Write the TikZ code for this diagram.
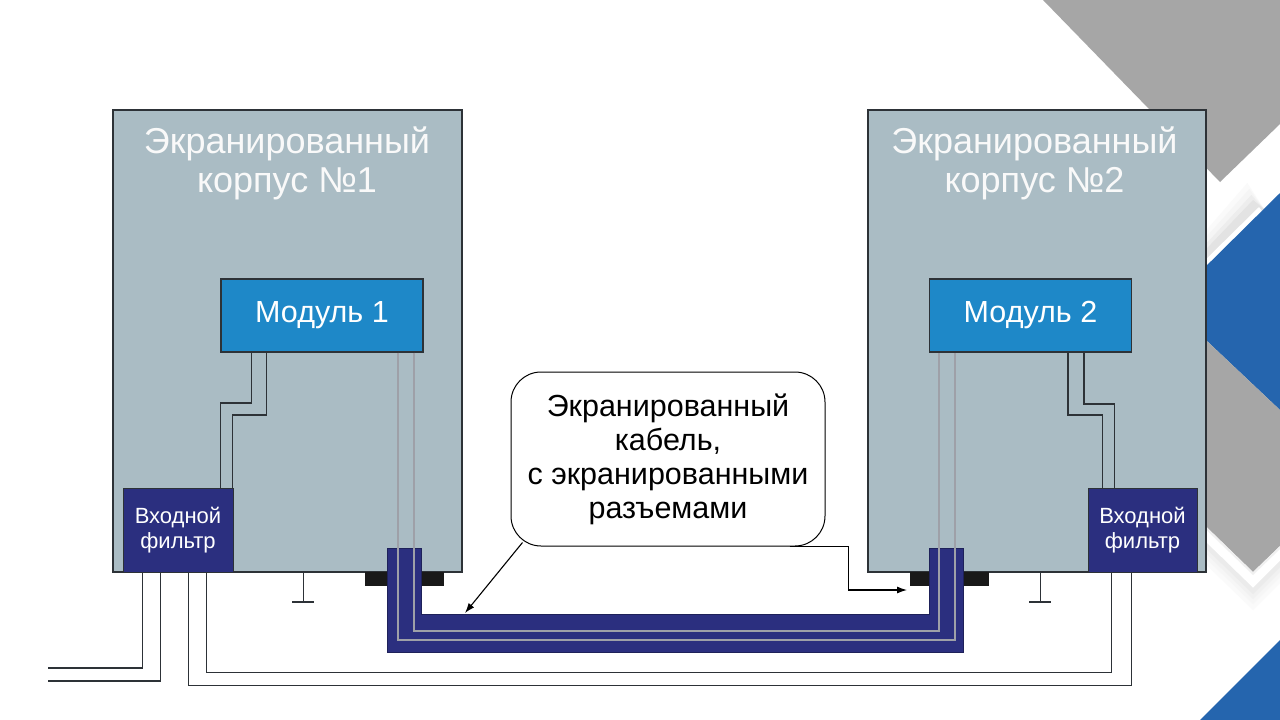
\documentclass[tikz,border=0pt]{standalone}
\usepackage{fontspec}
\setmainfont{Liberation Sans}
\usepackage{xcolor}
\usetikzlibrary{arrows.meta}

\definecolor{caseGray}{RGB}{170,188,196}
\definecolor{modBlue}{RGB}{30,136,200}
\definecolor{filtNavy}{RGB}{43,47,127}
\definecolor{decoGray}{RGB}{166,166,166}
\definecolor{decoBlue}{RGB}{37,101,174}
\definecolor{wireDark}{RGB}{45,50,55}
\definecolor{coreGray}{RGB}{158,160,168}

\begin{document}
\begin{tikzpicture}[x=1pt,y=-1pt,
    housing/.style={draw=wireDark, line width=1.3pt, fill=caseGray, minimum height=462pt, inner sep=0pt},
    casetitle/.style={text=white!95!gray, align=center, inner sep=0pt, font=\fontsize{36}{39}\selectfont},
    module/.style={draw=wireDark, line width=1.3pt, fill=modBlue, text=white, minimum width=202pt, minimum height=73pt, inner sep=0pt, font=\fontsize{30.5}{34}\selectfont},
    filterbox/.style={draw=wireDark, line width=1pt, fill=filtNavy, text=white, align=center, minimum height=84pt, inner sep=0pt, font=\fontsize{22}{24.5}\selectfont},
    callout/.style={draw=black, line width=1pt, fill=white, rounded corners=30pt, align=center, minimum width=314pt, minimum height=174pt, inner sep=0pt, font=\fontsize{30.5}{34}\selectfont},
    wire/.style={draw=wireDark, line width=1.7pt},
    core/.style={draw=coreGray, line width=1.7pt},
    pointer/.style={draw=black, line width=1.1pt, -{Latex[length=10pt,width=7pt]}}]

    % Page and its bounds
    \useasboundingbox (0,0) rectangle (1280,720);
    \fill[white] (0,0) rectangle (1280,720);

    % Corner decoration on the right
    \fill[decoGray] (1043,0) -- (1280,0) -- (1280,124) -- (1220,182) -- cycle;
    \foreach \d/\c in {26/4,20/8,14/14,9/22}
        \fill[gray!\c] (1190,275-\d) -- (1256-\d/3,209-\d) -- (1264,209) -- (1190,275) -- cycle;
    \fill[white] (1190,275) -- (1259,207) -- (1264,214) -- (1190,283) -- cycle;
    \fill[decoBlue] (1190,282) -- (1280,193) -- (1280,410) -- (1190,325) -- cycle;
    \fill[decoGray] (1190,325) -- (1280,410) -- (1280,546) -- (1253,572) -- (1190,511) -- cycle;
    \foreach \d/\c in {22/4,16/7,11/11,6/16}
        \fill[gray!\c] (1190,527) -- (1253,588) -- (1280,561) -- (1280,561+\d) -- (1253,588+\d) -- (1190,527+\d) -- cycle;
    \fill[gray!12] (1190,511) -- (1253,572) -- (1280,546) -- (1280,549) -- (1253,575) -- (1190,514) -- cycle;
    \fill[decoBlue] (1200,720) -- (1280,640) -- (1280,720) -- cycle;

    % Shielded cases with their titles
    \node[housing, minimum width=349pt] (case1) at (287.5,341) {};
    \node[housing, minimum width=338pt] (case2) at (1037,341) {};
    \node[casetitle] (ttl1) at (287,163) {Экранированный\\корпус №1};
    \node[casetitle] (ttl2) at (1034.5,163) {Экранированный\\корпус №2};

    % Modules and input filters
    \node[module] (mod1) at (322,315.5) {Модуль 1};
    \node[module] (mod2) at (1030.5,315.5) {Модуль 2};
    \node[filterbox, minimum width=110pt] (filt1) at (178,530) {Входной\\фильтр};
    \node[filterbox, minimum width=109pt] (filt2) at (1142.5,530) {Входной\\фильтр};

    % Wires from modules to filters
    \draw[wire] ([xshift=31pt]mod1.south west) -- ++(0,50) -| ([xshift=-13pt]filt1.north east);
    \draw[wire] ([xshift=46pt]mod1.south west) -- ++(0,62) -| ([xshift=-1pt]filt1.north east);
    \draw[wire] ([xshift=-64pt]mod2.south east) -- ++(0,62) -| ([xshift=15pt]filt2.north west);
    \draw[wire] ([xshift=-48pt]mod2.south east) -- ++(0,51) -| ([xshift=27pt]filt2.north west);

    % Connectors on the cases
    \foreach \fx in {365,910}
        \fill[black!90] (\fx,572) rectangle ++(79,14);

    % Shielded cable
    \filldraw[fill=filtNavy, draw=filtNavy!70!black, line width=0.8pt]
        (387,548) -- (387,652) -- (963,652) -- (963,548) -- (929,548)
        -- (929,614) -- (421,614) -- (421,548) -- cycle;
    \draw[core] ([xshift=-26pt]mod1.south east) -- ++(0,287) -| ([xshift=26pt]mod2.south west);
    \draw[core] ([xshift=-10pt]mod1.south east) -- ++(0,278) -| ([xshift=10pt]mod2.south west);

    % Grounds
    \draw[wire] ([xshift=191pt]case1.south west) -- ++(0,29) coordinate (gnd1);
    \draw[wire] ([xshift=-11pt]gnd1) -- ([xshift=11pt]gnd1);
    \draw[wire] ([xshift=173pt]case2.south west) -- ++(0,29) coordinate (gnd2);
    \draw[wire] ([xshift=-11pt]gnd2) -- ([xshift=11pt]gnd2);

    % Outside wires
    \coordinate (inA) at (48,668);
    \coordinate (inB) at (48,681);
    \draw[wire] ([xshift=20pt]filt1.south west) |- (inA);
    \draw[wire] ([xshift=38pt]filt1.south west) |- (inB);
    \draw[wire] ([xshift=84pt]filt1.south west) -- ++(0,100) -| ([xshift=24pt]filt2.south west);
    \draw[wire] ([xshift=66pt]filt1.south west) -- ++(0,113) -| ([xshift=44pt]filt2.south west);

    % Callout and its pointers
    \node[callout] (note) at (668,459) {Экранированный\\кабель,\\с экранированными\\разъемами};
    \coordinate (cabL) at (465,613);
    \coordinate (cabR) at (907,590);
    \draw[pointer] ([shift={(12pt,4pt)}]note.south west) -- (cabL);
    \draw[pointer] ([xshift=-36pt]note.south east) -- ++(59,0) |- (cabR);
\end{tikzpicture}
\end{document}
